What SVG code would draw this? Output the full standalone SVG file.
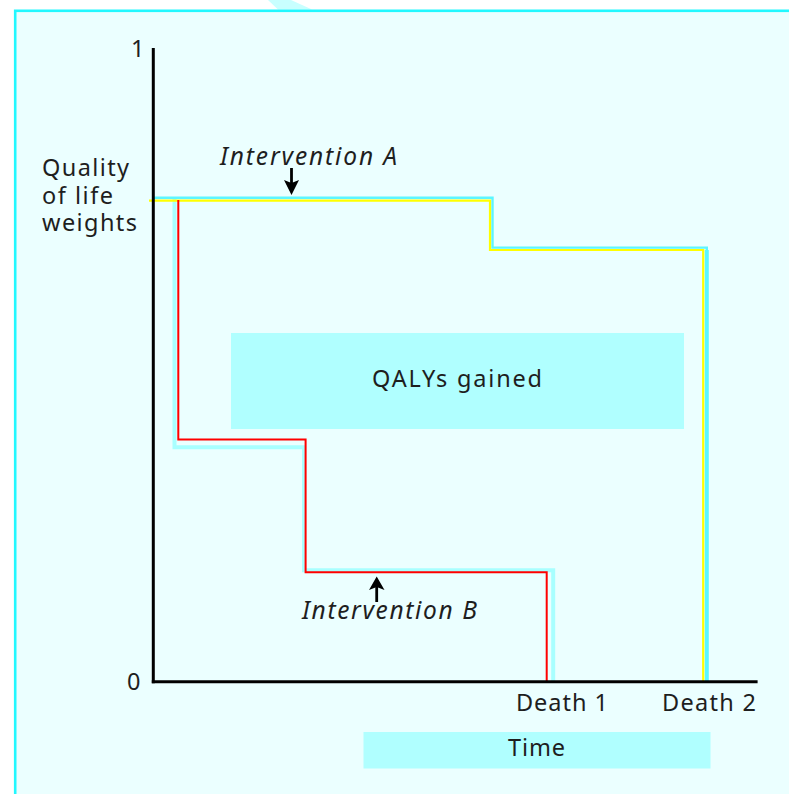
<svg xmlns="http://www.w3.org/2000/svg" width="789" height="794" viewBox="0 0 789 794">
<style>
  text { font-family: "Noto Sans", "Open Sans", "DejaVu Sans", sans-serif; font-size: 23.5px; fill: #1e1e1e; }
  .it { font-style: italic; font-size: 24.5px; }
  .box { fill: #b0ffff; }
  .line { fill: none; stroke-linejoin: miter; stroke-linecap: butt; }
  .arrow { fill: #000; stroke: none; }
  .shaft { stroke: #000; stroke-width: 2.8; }
</style>
<rect x="0" y="0" width="789" height="794" fill="#ffffff"/>
<polygon points="268,0 291,0 312,9.5 278,9.5" fill="#c8ffff"/>
<rect id="frame" x="15.2" y="10.8" width="800" height="800" fill="#ebffff" stroke="#22f8ff" stroke-width="2.6"/>

<g id="qalys-box">
  <rect class="box" x="231" y="333" width="453" height="96"/>
  <text x="372" y="387" textLength="170" lengthAdjust="spacing">QALYs gained</text>
</g>
<g id="time-box">
  <rect class="box" x="363.5" y="732" width="347" height="36.5"/>
  <text x="508" y="756" textLength="57" lengthAdjust="spacing">Time</text>
</g>

<g id="connectors">
  <polyline class="line" points="174.5,198 174.5,447.2 304,447.2 304,570.2 553.2,570.2 553.2,681" stroke="#a8ffff" stroke-width="4"/>
  <polyline class="line" points="154,197.8 492.5,197.8 492.5,247.6 706.8,247.6 706.8,681" stroke="#5cf6ff" stroke-width="2.4"/>
  <line x1="706.8" y1="250" x2="706.8" y2="681" stroke="#5cf6ff" stroke-width="4"/>
  <polyline class="line" points="149,200.6 490,200.6 490,250 703.2,250 703.2,681" stroke="#ffff00" stroke-width="2.2"/>
  <polyline class="line" points="178.3,200 178.3,439.5 305.6,439.5 305.6,572.3 546.7,572.3 546.7,681" stroke="#ff0000" stroke-width="2"/>
  <g id="arrow-a">
    <line class="shaft" x1="291.5" y1="168" x2="291.5" y2="183"/>
    <polygon class="arrow" points="284,180 291.5,183 299,180 291.5,195"/>
  </g>
  <g id="arrow-b">
    <line class="shaft" x1="376.7" y1="602" x2="376.7" y2="587"/>
    <polygon class="arrow" points="369,590 376.7,587 384.5,590 376.7,576.5"/>
  </g>
</g>

<g id="axes">
  <line x1="153.3" y1="48" x2="153.3" y2="683.2" stroke="#000" stroke-width="3"/>
  <line x1="151.8" y1="681.7" x2="757.6" y2="681.7" stroke="#000" stroke-width="3"/>
</g>

<g id="y-labels">
  <text x="131" y="57">1</text>
  <text x="127" y="690">0</text>
  <text id="y-title"><tspan x="42" y="176" textLength="87" lengthAdjust="spacing">Quality</tspan><tspan x="42" y="204" textLength="71" lengthAdjust="spacing">of life</tspan><tspan x="42" y="231" textLength="95" lengthAdjust="spacing">weights</tspan></text>
</g>
<g id="intervention-a">
  <text class="it" x="220" y="165" textLength="177" lengthAdjust="spacing">Intervention A</text>
</g>
<g id="intervention-b">
  <text class="it" x="302" y="619" textLength="175" lengthAdjust="spacing">Intervention B</text>
</g>
<g id="x-labels">
  <text x="516" y="711" textLength="92" lengthAdjust="spacing">Death 1</text>
  <text x="662" y="711" textLength="94" lengthAdjust="spacing">Death 2</text>
</g>
</svg>
